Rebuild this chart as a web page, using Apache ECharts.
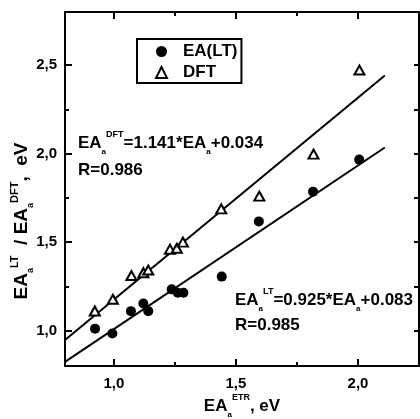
<!DOCTYPE html>
<html>
<head>
<meta charset="utf-8">
<script src="https://cdn.jsdelivr.net/npm/echarts@6/dist/echarts.min.js"></script>
<style>
html, body { margin: 0; padding: 0; background: #fff; }
#chart { width: 420px; height: 419px; }
</style>
</head>
<body>
<div id="chart"></div>
<script>
// Electron affinities: reference values (x) against LT and DFT estimates (y), eV
const ltX  = [0.923, 0.994, 1.070, 1.121, 1.141, 1.237, 1.262, 1.285, 1.442, 1.594, 1.816, 2.005];
const ltY  = [1.011, 0.984, 1.110, 1.153, 1.110, 1.233, 1.214, 1.214, 1.305, 1.617, 1.785, 1.966];
const dftX = [0.922, 0.996, 1.072, 1.121, 1.141, 1.230, 1.258, 1.283, 1.440, 1.596, 1.818, 2.006];
const dftY = [1.111, 1.177, 1.311, 1.327, 1.342, 1.460, 1.465, 1.500, 1.688, 1.760, 1.997, 2.472];

// Linear fits as stated in the annotations
const dftFit = { slope: 1.141, intercept: 0.034, r: '0.986' };
const ltFit  = { slope: 0.925, intercept: 0.083, r: '0.985' };
const fitRange = [0.8, 2.11];

// Axis ranges and tick positions
const xRange = [0.8, 2.25];
const yRange = [0.8, 2.8];
const xMajor = [1.0, 1.5, 2.0];
const xMinor = [1.25, 1.75];
const yMajor = [1.0, 1.5, 2.0, 2.5];
const yMinor = [1.25, 1.75, 2.25];

const FONT = '"Liberation Sans", Arial, Helvetica, sans-serif';
const INK = '#000';

const pair = (xs, ys) => xs.map((x, i) => [x, ys[i]]);
const fitLine = f => fitRange.map(x => [x, +(f.slope * x + f.intercept).toFixed(4)]);
const fmt = v => v.toFixed(1).replace('.', ',');

function axis(kind, position, ticks, tickLen, withLine, withLabels) {
  const range = kind === 'x' ? xRange : yRange;
  return {
    type: 'value',
    position: position,
    min: range[0],
    max: range[1],
    splitLine: { show: false },
    axisLine: { show: withLine, onZero: false, lineStyle: { color: INK, width: 2 } },
    axisTick: {
      show: true, inside: true, length: tickLen, customValues: ticks,
      lineStyle: { color: INK, width: 2 }
    },
    axisLabel: withLabels ? {
      show: true, customValues: ticks, formatter: fmt,
      color: INK, fontFamily: FONT, fontWeight: 'bold', fontSize: 15,
      margin: kind === 'x' ? 10 : 8
    } : { show: false }
  };
}

// Rich-text styles for formulas with sub/superscripts
function richStyles(size, supScale) {
  return {
    m:  { fontFamily: FONT, fontWeight: 'bold', fontSize: size, lineHeight: 26, fill: INK, color: INK },
    b:  { fontFamily: FONT, fontWeight: 'bold', fontSize: Math.round(size * 0.45), fill: INK, color: INK,
          verticalAlign: 'bottom', lineHeight: 26 },
    p:  { fontFamily: FONT, fontWeight: 'bold', fontSize: Math.round(size * (supScale || 0.55)), fill: INK, color: INK,
          verticalAlign: 'top', lineHeight: 26 }
  };
}

function formulaText(x, y, text, size, align, rotation, supScale) {
  return {
    type: 'text', x: x, y: y, rotation: rotation || 0, silent: true,
    style: {
      text: text, rich: richStyles(size, supScale), fill: INK,
      align: align || 'left', verticalAlign: 'middle'
    }
  };
}

const chart = echarts.init(document.getElementById('chart'), null, { renderer: 'canvas' });

chart.setOption({
  animation: false,
  backgroundColor: '#fff',
  grid: { left: 65, right: 1, top: 12, bottom: 53, containLabel: false },
  xAxis: [
    axis('x', 'bottom', xMajor, 7, true, true),
    axis('x', 'bottom', xMinor, 4, false, false),
    axis('x', 'top', xMajor, 7, true, false),
    axis('x', 'top', xMinor, 4, false, false)
  ],
  yAxis: [
    axis('y', 'left', yMajor, 7, true, true),
    axis('y', 'left', yMinor, 4, false, false),
    axis('y', 'right', yMajor, 5, true, false),
    axis('y', 'right', yMinor, 5, false, false)
  ],
  legend: {
    data: ['EA(LT)', 'DFT'],
    orient: 'vertical',
    left: 137, top: 39,
    borderColor: INK, borderWidth: 2, borderRadius: 0,
    padding: [3, 4, 1, 18],
    itemWidth: 11, itemHeight: 11, itemGap: 2,
    textStyle: {
      fontFamily: FONT, fontWeight: 'bold', fontSize: 17, color: INK,
      lineHeight: 19, padding: [0, 0, 0, 11]
    }
  },
  series: [
    {
      name: 'DFT fit', type: 'line', data: fitLine(dftFit), showSymbol: false, silent: true,
      lineStyle: { color: INK, width: 2 }, z: 1
    },
    {
      name: 'LT fit', type: 'line', data: fitLine(ltFit), showSymbol: false, silent: true,
      lineStyle: { color: INK, width: 2 }, z: 1
    },
    {
      name: 'EA(LT)', type: 'scatter', data: pair(ltX, ltY),
      symbol: 'circle', symbolSize: 10,
      itemStyle: { color: INK, opacity: 1 }, z: 3
    },
    {
      name: 'DFT', type: 'scatter', data: pair(dftX, dftY),
      symbol: 'triangle', symbolSize: [10, 9],
      itemStyle: { color: '#fff', borderColor: INK, borderWidth: 2, opacity: 1 }, z: 3
    }
  ],
  graphic: [
    // fit equations
    formulaText(78, 143, '{m|EA}{b|a}{p|DFT}{m|=1.141*EA}{b|a}{m|+0.034}', 17),
    formulaText(78, 170, '{m|R=' + dftFit.r + '}', 17),
    formulaText(235, 300, '{m|EA}{b|a}{p|LT}{m|=0.925*EA}{b|a}{m|+0.083}', 17),
    formulaText(235, 325, '{m|R=' + ltFit.r + '}', 17),
    // axis titles
    formulaText(242, 406, '{m|EA}{b|a}{p|ETR}{m|, eV}', 17, 'center'),
    formulaText(22, 221, '{m|EA}{b|a}{p|LT}{m|  / EA}{b|a}{p|DFT}{m|,  eV}', 19, 'center', Math.PI / 2, 0.6)
  ]
});
</script>
</body>
</html>
